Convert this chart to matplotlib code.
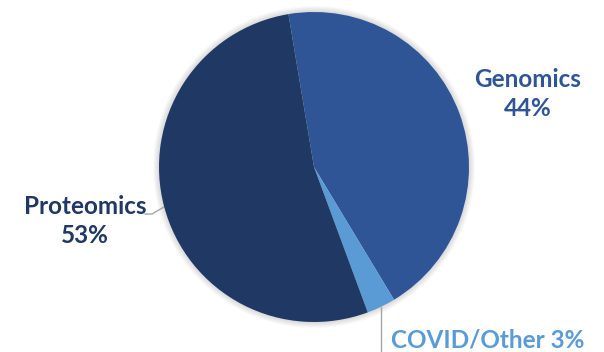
import numpy as np
import matplotlib.pyplot as plt
from matplotlib.patches import Circle

# Funding share by area
labels = ["Genomics", "COVID/Other", "Proteomics"]
shares = [44, 3, 53]
colors = ["#2F5597", "#5B9BD5", "#203864"]
text_colors = ["#2F5597", "#5B9BD5", "#203864"]

W, H = 604, 352
cx, cy, R = 314, H - 167, 155
start = 99.5

fig = plt.figure(figsize=(W / 100, H / 100), dpi=100)
ax = fig.add_axes([0, 0, 1, 1])

# soft shadow ring behind the pie
for k in range(1, 7):
    ax.add_patch(Circle((cx, cy), R + k, color="#000000", alpha=0.022, lw=0, zorder=0))

wedges, _ = ax.pie(shares, colors=colors, startangle=start, counterclock=False,
                   center=(cx, cy), radius=R, wedgeprops=dict(lw=0))
for w in wedges:
    w.set_zorder(2)

ax.set_xlim(0, W)
ax.set_ylim(0, H)
ax.set_aspect("equal")
ax.axis("off")

def mid_point(w):
    a = np.deg2rad((w.theta1 + w.theta2) / 2)
    return cx + R * np.cos(a), cy + R * np.sin(a)

font = dict(family=["Lato", "DejaVu Sans"], fontsize=17.5, fontweight="bold")

# Genomics
ax.text(528, H - 94, f"{labels[0]}\n{shares[0]}%", color=text_colors[0],
        ha="center", va="center", linespacing=1.3, **font)

# Proteomics with leader line
px, py = mid_point(wedges[2])
ax.plot([145, 152, px], [H - 214, H - 214, py], color="#A6A6A6", lw=1, zorder=1)
ax.text(85, H - 221, f"{labels[2]}\n{shares[2]}%", color=text_colors[2],
        ha="center", va="center", linespacing=1.3, **font)

# COVID/Other with vertical leader
qx, qy = mid_point(wedges[1])
ax.plot([qx, qx], [qy, 0], color="#A6A6A6", lw=1, zorder=1)
ax.text(qx + 10, H - 340, f"{labels[1]} {shares[1]}%", color=text_colors[1],
        ha="left", va="center", **font)

fig.savefig("out.png", dpi=100)
